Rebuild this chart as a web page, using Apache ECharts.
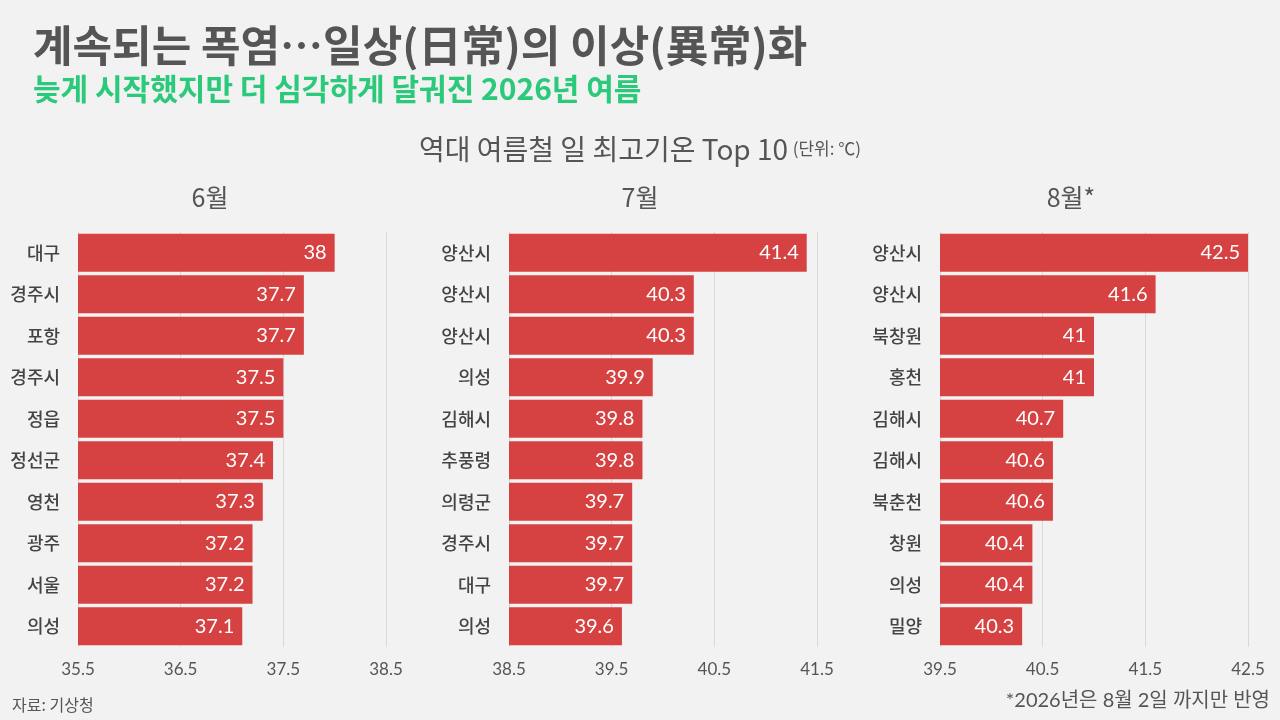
<!DOCTYPE html>
<html><head><meta charset="utf-8">
<script src="https://cdn.jsdelivr.net/npm/echarts@6/dist/echarts.min.js"></script>
<style>html,body{margin:0;padding:0;background:#f2f2f2;}#c{width:1280px;height:720px;}</style>
</head><body><div id="c"></div>
<script>
const cats6 = ['대구','경주시','포항','경주시','정읍','정선군','영천','광주','서울','의성'];
const vals6 = [38,37.7,37.7,37.5,37.5,37.4,37.3,37.2,37.2,37.1];
const cats7 = ['양산시','양산시','양산시','의성','김해시','추풍령','의령군','경주시','대구','의성'];
const vals7 = [41.4,40.3,40.3,39.9,39.8,39.8,39.7,39.7,39.7,39.6];
const cats8 = ['양산시','양산시','북창원','홍천','김해시','김해시','북춘천','창원','의성','밀양'];
const vals8 = [42.5,41.6,41,41,40.7,40.6,40.6,40.4,40.4,40.3];
const panelTitles = ['6월','7월','8월*'];
const xRanges = [[35.5,38.5],[38.5,41.5],[39.5,42.5]];

const FONT = "Lato, 'Noto Sans CJK KR', sans-serif";
const KFONT = "'Noto Sans CJK KR', Lato, sans-serif";
const grids = [
  {left:78, right:894, top:232, bottom:73},
  {left:509, right:463, top:232, bottom:73},
  {left:940, right:32, top:232, bottom:73}
];
const cats = [cats6,cats7,cats8];
const vals = [vals6,vals7,vals8];
const centers = [210, 640, 1071];

const option = {
  backgroundColor:'#f2f2f2',
  animation:false,
  textStyle:{fontFamily:FONT},
  title:[
    {text:'{a|역대 여름철 일 최고기온 Top 10} {b|(단위: ℃)}', left:'center', top:130,
     textStyle:{fontWeight:'normal', rich:{a:{fontSize:28,color:'#555',fontFamily:KFONT,fontWeight:'normal'},b:{fontSize:17,color:'#555',fontFamily:KFONT,fontWeight:'normal'}}}}
  ],
  grid:grids,
  xAxis:grids.map((g,i)=>({
    type:'value', gridIndex:i, min:xRanges[i][0], max:xRanges[i][1], interval:1,
    axisLine:{show:false}, axisTick:{show:false},
    splitLine:{show:true, lineStyle:{color:'#d9d9d9', width:1}},
    axisLabel:{color:'#555', fontSize:17, margin:14, fontFamily:FONT}
  })),
  yAxis:grids.map((g,i)=>({
    type:'category', gridIndex:i, data:cats[i], inverse:true,
    axisLine:{show:false}, axisTick:{show:false},
    axisLabel:{color:'#444', fontSize:18, fontWeight:500, margin:18, fontFamily:KFONT}
  })),
  series:grids.map((g,i)=>({
    type:'bar', xAxisIndex:i, yAxisIndex:i, data:vals[i], barCategoryGap:'9%',
    itemStyle:{color:'#d64242'},
    label:{show:true, position:'insideRight', distance:8, color:'#fff', fontSize:20, fontFamily:FONT}
  })),
  graphic:[
    {type:'text', x:33, y:46, style:{text:'계속되는 폭염…일상(日常)의 이상(異常)화', font:"bold 43px 'Noto Sans CJK KR'", fill:'#555', verticalAlign:'middle'}},
    {type:'text', x:33, y:89, style:{text:'늦게 시작했지만 더 심각하게 달궈진 2026년 여름', font:"bold 30px 'Noto Sans CJK KR'", fill:'#2bc97a', verticalAlign:'middle'}},
    ...panelTitles.map((t,i)=>({type:'text', x:centers[i], y:197, style:{text:t, font:"25px 'Noto Sans CJK KR'", fill:'#555', align:'center', verticalAlign:'middle'}})),
    {type:'text', x:12, y:705, style:{text:'자료: 기상청', font:"16px 'Noto Sans CJK KR'", fill:'#555', verticalAlign:'middle'}},
    {type:'text', x:1270, y:701, style:{text:'*2026년은 8월 2일 까지만 반영', font:"20px Lato, 'Noto Sans CJK KR'", fill:'#555', align:'right', verticalAlign:'middle'}}
  ]
};
const chart = echarts.init(document.getElementById('c'));
chart.setOption(option);
</script></body></html>
